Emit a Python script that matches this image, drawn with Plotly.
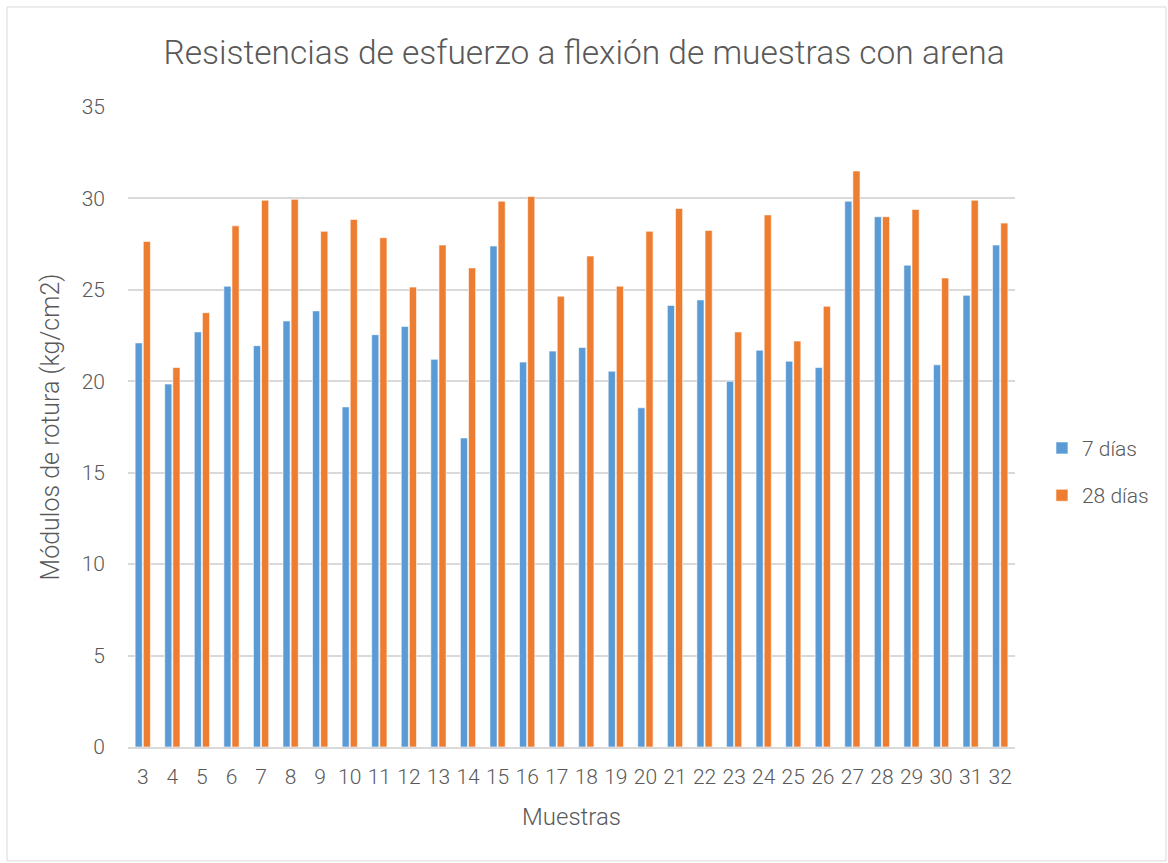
import plotly.graph_objects as go

muestras = [str(i) for i in range(3, 33)]
dias7 = [22.1, 19.85, 22.7, 25.2, 21.95, 23.3, 23.85, 18.6, 22.55, 23.0,
         21.2, 16.9, 27.4, 21.05, 21.65, 21.85, 20.55, 18.55, 24.15, 24.45,
         20.0, 21.7, 21.1, 20.75, 29.85, 29.0, 26.35, 20.9, 24.7, 27.45]
dias28 = [27.65, 20.75, 23.75, 28.5, 29.9, 29.95, 28.2, 28.85, 27.85, 25.15,
          27.45, 26.2, 29.85, 30.1, 24.65, 26.85, 25.2, 28.2, 29.45, 28.25,
          22.7, 29.1, 22.2, 24.1, 31.5, 29.0, 29.4, 25.65, 29.9, 28.65]
series_names = ["7 días", "28 días"]
colors = ["#5b9bd5", "#ed7d31"]

FONT = "Roboto, Arial, sans-serif"
GREY = "#595959"
W = 300

fig = go.Figure()
for i, (name, vals, c) in enumerate(zip(series_names, [dias7, dias28], colors)):
    fig.add_trace(go.Bar(x=muestras, y=vals, name=name, legendgroup=f"g{i}",
                         marker=dict(color=c, line=dict(color="white", width=0.6))))

fig.update_layout(
    width=1168, height=863,
    margin=dict(l=128, r=153, t=107, b=116),
    paper_bgcolor="white", plot_bgcolor="white",
    barmode="group", bargap=0.45, bargroupgap=0.12,
    font=dict(family=FONT, color=GREY, size=21, weight=W),
    title=dict(text="Resistencias de esfuerzo a flexión de muestras con arena",
               x=0.5, xanchor="center", y=0.94, yanchor="middle",
               font=dict(size=33.5, color=GREY, family=FONT, weight=W)),
    xaxis=dict(title=dict(text="Muestras", font=dict(size=24, weight=W), standoff=20),
               showgrid=False, showline=True, linecolor="#d9d9d9", linewidth=1.5,
               ticks="", tickfont=dict(size=21, weight=W), ticklabelstandoff=10),
    yaxis=dict(title=dict(text="Módulos de rotura (kg/cm2)", font=dict(size=25, weight=W), standoff=14),
               range=[0, 35], dtick=5, showgrid=True, gridcolor="#d9d9d9", gridwidth=1.5,
               zeroline=False, showline=False, ticks="", tickfont=dict(size=21, weight=W),
               ticklabelstandoff=22),
    legend=dict(x=1.0304, xanchor="left", y=0.430, yanchor="middle",
                font=dict(size=21, weight=W), itemwidth=30, tracegroupgap=17,
                traceorder="grouped"),
    shapes=[dict(type="rect", xref="paper", yref="paper",
                 x0=-0.1364, x1=1.1702, y0=-0.178, y1=1.1563,
                 line=dict(color="#d9d9d9", width=1), layer="below")],
)

fig.write_html("out.html", config={"displayModeBar": False},
               post_script="document.body.style.margin='0px';")
